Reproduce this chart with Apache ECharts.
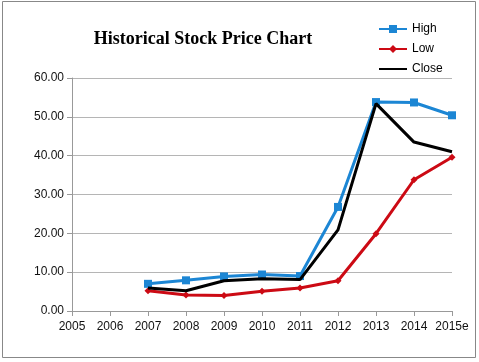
<!DOCTYPE html>
<html>
<head>
<meta charset="utf-8">
<script src="https://cdn.jsdelivr.net/npm/echarts@6/dist/echarts.min.js"></script>
<style>html,body{margin:0;padding:0;background:#fff}#c{width:479px;height:362px}</style>
</head>
<body>
<div id="c"></div>
<script>
const categories = ['2005','2006','2007','2008','2009','2010','2011','2012','2013','2014','2015e'];
const highValues = [null, null, 7.0, 7.9, 8.9, 9.4, 9.0, 26.8, 53.8, 53.7, 50.4];
const lowValues = [null, null, 5.2, 4.1, 4.0, 5.1, 5.9, 7.8, 19.9, 33.8, 39.6];
const closeValues = [null, null, 5.9, 5.2, 7.8, 8.3, 8.1, 20.9, 53.4, 43.5, 41.0];
const yTicks = [0, 10, 20, 30, 40, 50, 60];

const chart = echarts.init(document.getElementById('c'), null, {renderer: 'canvas'});
chart.setOption({
  animation: false,
  backgroundColor: '#fff',
  title: {
    text: 'Historical Stock Price Chart',
    left: 198, top: 25, textAlign: 'center',
    textStyle: {fontFamily: 'Liberation Serif', fontWeight: 'bold', fontSize: 18, color: '#000'}
  },
  legend: {
    orient: 'vertical', left: 373, top: 18, itemWidth: 28, itemHeight: 10, itemGap: 8,
    textStyle: {fontFamily: 'Liberation Sans', fontSize: 12, color: '#000'},
    data: ['High', 'Low', {name: 'Close', itemStyle: {opacity: 0}}]
  },
  graphic: [{
    type: 'rect', shape: {x: 2.5, y: 1.5, width: 473, height: 356},
    style: {fill: 'none', stroke: '#888', lineWidth: 1}, z: -1
  }],
  grid: {left: 72, right: 27, top: 78, bottom: 51},
  xAxis: {
    type: 'category', data: categories, boundaryGap: false,
    axisLine: {lineStyle: {color: '#999', width: 1}},
    axisTick: {show: true, inside: false, length: 5, interval: 0, lineStyle: {color: '#999'}},
    axisLabel: {interval: 0, margin: 10, fontFamily: 'Liberation Sans', fontSize: 12, color: '#111'},
    splitLine: {show: false}
  },
  yAxis: {
    type: 'value', min: yTicks[0], max: yTicks[yTicks.length - 1], interval: 10,
    axisLine: {show: true, lineStyle: {color: '#999', width: 1}},
    axisTick: {show: true, length: 5, lineStyle: {color: '#999'}},
    axisLabel: {margin: 8, fontFamily: 'Liberation Sans', fontSize: 12, color: '#111',
      formatter: v => v.toFixed(2)},
    splitLine: {show: true, lineStyle: {color: '#b5b5b5', width: 1}}
  },
  series: [
    {name: 'High', type: 'line', data: highValues, symbol: 'rect', symbolSize: 8,
     itemStyle: {color: '#1c86d4'}, lineStyle: {width: 3, color: '#1c86d4'}, z: 3},
    {name: 'Low', type: 'line', data: lowValues, symbol: 'diamond', symbolSize: 7,
     itemStyle: {color: '#cc0a14'}, lineStyle: {width: 3, color: '#cc0a14'}, z: 2},
    {name: 'Close', type: 'line', data: closeValues, symbol: 'none',
     itemStyle: {color: '#000'}, lineStyle: {width: 3, color: '#000'}, z: 4}
  ]
});
</script>
</body>
</html>
